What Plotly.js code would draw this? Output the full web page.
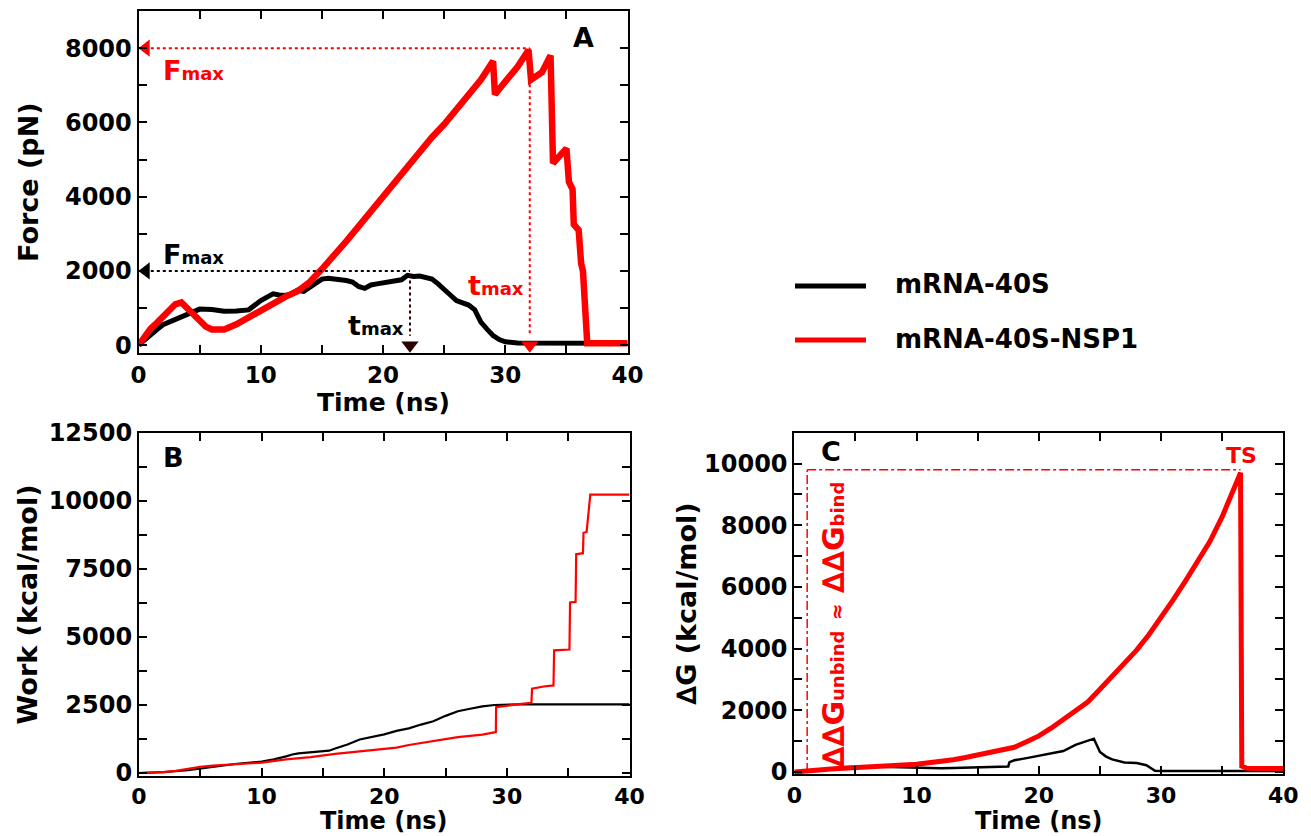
<!DOCTYPE html>
<html>
<head>
<meta charset="utf-8">
<script src="https://cdn.plot.ly/plotly-3.0.1.min.js"></script>
<style>html,body{margin:0;padding:0;background:#fff;} #chart{width:1311px;height:836px;}</style>
</head>
<body>
<div id="chart"></div>
<script>
// ---------- Panel A: Force vs time ----------
const forceT_40S = [0,0.5,1,1.5,2,2.5,3,3.5,4,4.5,5,6,7,8,9,10,10.5,11,11.5,12,12.5,13,13.5,14,14.5,15,15.5,16,16.5,17,17.5,18,18.5,19,19.5,20,20.5,21,21.5,22,22.5,23,23.5,24,24.5,25,25.5,26,26.5,27,27.5,28,28.5,29,29.5,30,31,32,33,34,35,36,37,38,39,40];
const force_40S  = [0,150,300,420,550,620,700,760,820,900,970,960,910,920,950,1200,1280,1380,1350,1340,1380,1480,1450,1550,1650,1780,1800,1790,1760,1740,1700,1580,1530,1620,1650,1680,1700,1740,1760,1880,1850,1860,1820,1780,1650,1480,1350,1200,1150,1080,950,620,430,260,150,90,60,55,50,60,50,55,50,55,50,50];
const forceT_NSP1 = [0,0.5,1,1.5,2,2.5,3,3.5,4,4.5,5,5.5,6,6.5,7,8,9,10,11,12,13,14,15,16,17,18,19,20,21,22,23,24,25,26,27,28,29,29.15,30,31,31.9,32.1,33,33.7,33.9,34.5,35,35.2,35.5,35.6,36,36.2,36.35,36.7,37.5,38,38.5,39,39.5,40];
const force_NSP1  = [0,250,450,600,750,900,1100,1150,1000,800,650,500,420,400,420,560,750,950,1150,1300,1450,1700,2050,2400,2800,3200,3600,4000,4400,4850,5200,5600,5950,6350,6750,7150,7650,6750,7100,7500,7950,7150,7350,7800,4900,5100,5300,4400,4200,3250,3100,2200,2000,50,60,40,70,50,60,50];

// ---------- Panel B: Work vs time ----------
const workT_40S = [0,2,4,6,8,10,11,12,12.5,13,14,15,15.5,16,17,18,19,20,21,22,23,24,25,26,27,28,29,30,31,40];
const work_40S  = [0,30,100,230,340,420,500,610,680,720,760,800,820,900,1050,1230,1330,1420,1550,1640,1780,1900,2100,2270,2360,2450,2500,2520,2520,2520];
const workT_NSP1 = [0,2,3,4,5,6,8,10,12,14,16,18,20,21,22,24,26,28,29.1,29.12,30,31,32,32.05,33,33.8,33.85,35.1,35.15,35.6,35.65,36.2,36.25,36.5,36.8,40];
const work_NSP1  = [0,30,80,150,230,270,330,380,500,580,700,800,880,930,1030,1170,1320,1410,1500,2420,2480,2530,2580,3100,3180,3220,4510,4540,6270,6290,8040,8080,8830,8860,10230,10230];

// ---------- Panel C: dG vs time ----------
const dgT_40S = [0,1,2,3,4,5,6,7,8,9,10,11,12,13,14,15,16,17,17.5,17.6,18,19,20,21,22,23,24,24.5,25,25.5,26,27,28,28.8,29.5,30,35,40];
const dg_40S  = [0,30,60,110,150,170,180,170,160,140,120,110,120,130,140,150,160,170,180,320,380,450,520,600,680,880,1000,1080,650,500,410,310,290,220,40,30,30,30];
const dgT_NSP1 = [0,1,2,3,4,5,6,7,8,9,10,11,12,13,14,15,16,17,18,19,20,21,22,23,24,25,26,27,28,29,30,31,32,33,34,35,36,36.5,36.6,37,38,39,40];
const dg_NSP1  = [0,40,70,100,120,140,150,160,180,200,250,300,340,400,470,560,640,700,800,980,1170,1420,1700,1980,2270,2680,3110,3510,3950,4450,5000,5590,6200,6830,7480,8280,9200,9700,190,120,110,130,110];

// annotation values
const fmaxNSP1 = 8000, tmaxNSP1 = 32;
const fmax40S = 2000, tmax40S = 22.2;
const tsLevel = 9800, tsStart = 1.05, tsEnd = 36.5;
const seriesNames = ['mRNA-40S', 'mRNA-40S-NSP1'];
const xTitle = 'Time (ns)';

const RED = '#ff0000', BLK = '#000000';
const FONT = 'DejaVu Sans, Verdana, sans-serif';

const traces = [
  {x: forceT_40S, y: force_40S, xaxis:'x', yaxis:'y', mode:'lines', line:{color:BLK, width:5}, showlegend:false},
  {x: forceT_NSP1, y: force_NSP1, xaxis:'x', yaxis:'y', mode:'lines', line:{color:RED, width:6.5}, showlegend:false},
  {x: workT_40S, y: work_40S, xaxis:'x2', yaxis:'y2', mode:'lines', line:{color:BLK, width:2.2}, showlegend:false},
  {x: workT_NSP1, y: work_NSP1, xaxis:'x2', yaxis:'y2', mode:'lines', line:{color:RED, width:2.2}, showlegend:false},
  {x: dgT_40S, y: dg_40S, xaxis:'x3', yaxis:'y3', mode:'lines', line:{color:BLK, width:2.5}, showlegend:false},
  {x: dgT_NSP1, y: dg_NSP1, xaxis:'x3', yaxis:'y3', mode:'lines', line:{color:RED, width:5}, showlegend:false},
  // markers (triangles) in panel A
  {x:[0.6], y:[fmaxNSP1], xaxis:'x', yaxis:'y', mode:'markers', marker:{symbol:'triangle-left', size:15, color:RED}, showlegend:false},
  {x:[tmaxNSP1], y:[0], xaxis:'x', yaxis:'y', mode:'markers', marker:{symbol:'triangle-down', size:15, color:RED}, showlegend:false},
  {x:[0.6], y:[fmax40S], xaxis:'x', yaxis:'y', mode:'markers', marker:{symbol:'triangle-left', size:15, color:BLK}, showlegend:false},
  {x:[tmax40S], y:[0], xaxis:'x', yaxis:'y', mode:'markers', marker:{symbol:'triangle-down', size:15, color:'#2a0000'}, showlegend:false}
];

const TITLEFONT = {family:FONT, size:27, weight:'bold', color:'black'};
const XTITLEFONT_A = {family:FONT, size:25, weight:'bold', color:'black'};
const XTITLEFONT_BC = {family:FONT, size:24, weight:'bold', color:'black'};
function axis(extra) {
  return Object.assign({
    showline:true, linecolor:'black', linewidth:2, mirror:'ticks',
    ticks:'inside', ticklen:8, tickwidth:2, tickcolor:'black',
    showgrid:false, zeroline:false, tickformat:'d',
    tickfont:{family:FONT, size:24, weight:'bold', color:'black'}
  }, extra);
}
const XTICKFONT_A = {family:FONT, size:23, weight:'bold', color:'black'};
const XTICKFONT_BC = {family:FONT, size:22, weight:'bold', color:'black'};
const minorX = {ticks:'inside', ticklen:8, tickwidth:2, tickcolor:'black', dtick:5, showgrid:false};
function minorY(d) { return {ticks:'inside', ticklen:8, tickwidth:2, tickcolor:'black', dtick:d, showgrid:false}; }

const layout = {
  width:1311, height:836,
  margin:{l:0, r:0, t:0, b:0},
  paper_bgcolor:'white', plot_bgcolor:'white',
  showlegend:false,
  xaxis: axis({domain:[0.1057,0.4787], range:[0,40], dtick:10, minor:minorX, anchor:'y', tickfont:XTICKFONT_A}),
  yaxis: axis({domain:[0.5774,0.9868], range:[-220,9000], dtick:2000, anchor:'x', minor:minorY(1000),
               title:{text:'Force (pN)', standoff:19, font:TITLEFONT}}),
  xaxis2: axis({domain:[0.1060,0.4802], range:[0,40], dtick:10, minor:minorX, anchor:'y2', tickfont:XTICKFONT_BC}),
  yaxis2: axis({domain:[0.0718,0.4821], range:[-110,12500], dtick:2500, anchor:'x2', minor:minorY(1250),
               title:{text:'Work (kcal/mol)', standoff:3, font:TITLEFONT}}),
  xaxis3: axis({domain:[0.6059,0.9789], range:[0,40], dtick:10, minor:minorX, anchor:'y3', tickfont:XTICKFONT_BC}),
  yaxis3: axis({domain:[0.0738,0.4824], range:[-75,11000], dtick:2000, anchor:'x3', minor:minorY(1000),
               title:{text:'\u2206G (kcal/mol)', standoff:0, font:TITLEFONT}}),
  shapes: [
    // panel A guide lines
    {type:'line', xref:'x', yref:'y', x0:1.0, x1:tmaxNSP1, y0:fmaxNSP1, y1:fmaxNSP1, line:{color:RED, width:2, dash:'dot'}},
    {type:'line', xref:'x', yref:'y', x0:tmaxNSP1, x1:tmaxNSP1, y0:fmaxNSP1, y1:250, line:{color:RED, width:2, dash:'dot'}},
    {type:'line', xref:'x', yref:'y', x0:1.0, x1:tmax40S, y0:fmax40S, y1:fmax40S, line:{color:BLK, width:2, dash:'dot'}},
    {type:'line', xref:'x', yref:'y', x0:tmax40S, x1:tmax40S, y0:1900, y1:250, line:{color:'#300000', width:2, dash:'dot'}},
    // panel C TS guide lines
    {type:'line', xref:'x3', yref:'y3', x0:tsStart, x1:tsEnd, y0:tsLevel, y1:tsLevel, line:{color:RED, width:1.5, dash:'dashdot'}},
    {type:'line', xref:'x3', yref:'y3', x0:tsStart, x1:tsStart, y0:0, y1:tsLevel, line:{color:RED, width:1.5, dash:'dashdot'}},
    // legend lines
    {type:'line', xref:'paper', yref:'paper', x0:795/1311, x1:866/1311, y0:1-286/836, y1:1-286/836, line:{color:BLK, width:5}},
    {type:'line', xref:'paper', yref:'paper', x0:795/1311, x1:866/1311, y0:1-340/836, y1:1-340/836, line:{color:RED, width:5}}
  ],
  annotations: [
    // x-axis titles
    {xref:'x domain', yref:'paper', x:0.5, y:1-402/836, yanchor:'middle', text:'<b>'+xTitle+'</b>', showarrow:false, borderpad:0, font:XTITLEFONT_A},
    {xref:'x2 domain', yref:'paper', x:0.5, y:1-821/836, yanchor:'middle', text:'<b>'+xTitle+'</b>', showarrow:false, borderpad:0, font:XTITLEFONT_BC},
    {xref:'x3 domain', yref:'paper', x:0.5, y:1-821/836, yanchor:'middle', text:'<b>'+xTitle+'</b>', showarrow:false, borderpad:0, font:XTITLEFONT_BC},
    // panel labels and markers text
    {xref:'x', yref:'y', x:36.4, y:8300, text:'<b>A</b>', showarrow:false, font:{family:FONT, size:27, color:BLK}},
    {xref:'x', yref:'y', x:1.8, y:7400, xanchor:'left', text:'<b>F<span style="font-size:18px">max</span></b>', showarrow:false, font:{family:FONT, size:27, color:RED}},
    {xref:'x', yref:'y', x:1.8, y:2450, xanchor:'left', text:'<b>F<span style="font-size:18px">max</span></b>', showarrow:false, font:{family:FONT, size:27, color:BLK}},
    {xref:'x', yref:'y', x:21.9, y:520, xanchor:'right', text:'<b>t<span style="font-size:18px">max</span></b>', showarrow:false, font:{family:FONT, size:27, color:BLK}},
    {xref:'x', yref:'y', x:31.7, y:1600, xanchor:'right', text:'<b>t<span style="font-size:18px">max</span></b>', showarrow:false, font:{family:FONT, size:27, color:RED}},
    {xref:'x2', yref:'y2', x:2.8, y:11600, text:'<b>B</b>', showarrow:false, font:{family:FONT, size:27, color:BLK}},
    {xref:'x3', yref:'y3', x:3.0, y:10400, text:'<b>C</b>', showarrow:false, font:{family:FONT, size:27, color:BLK}},
    {xref:'x3', yref:'y3', x:36.6, y:10250, text:'<b>TS</b>', showarrow:false, font:{family:FONT, size:22, color:RED}},
    {xref:'x3', yref:'y3', x:3.2, y:4800, textangle:-90, text:'<b>\u2206\u2206G<span style="font-size:18px">unbind</span> <span style="font-size:20px">\u2248</span> \u2206\u2206G<span style="font-size:18px">bind</span></b>', showarrow:false, font:{family:FONT, size:30, color:RED}},
    // legend text
    {xref:'paper', yref:'paper', x:893/1311, y:1-284/836, xanchor:'left', text:'<b>'+seriesNames[0]+'</b>', showarrow:false, font:{family:FONT, size:26, color:BLK}},
    {xref:'paper', yref:'paper', x:893/1311, y:1-339/836, xanchor:'left', text:'<b>'+seriesNames[1]+'</b>', showarrow:false, font:{family:FONT, size:26, color:BLK}}
  ]
};

Plotly.newPlot('chart', traces, layout, {staticPlot:true, displayModeBar:false});
</script>
</body>
</html>
